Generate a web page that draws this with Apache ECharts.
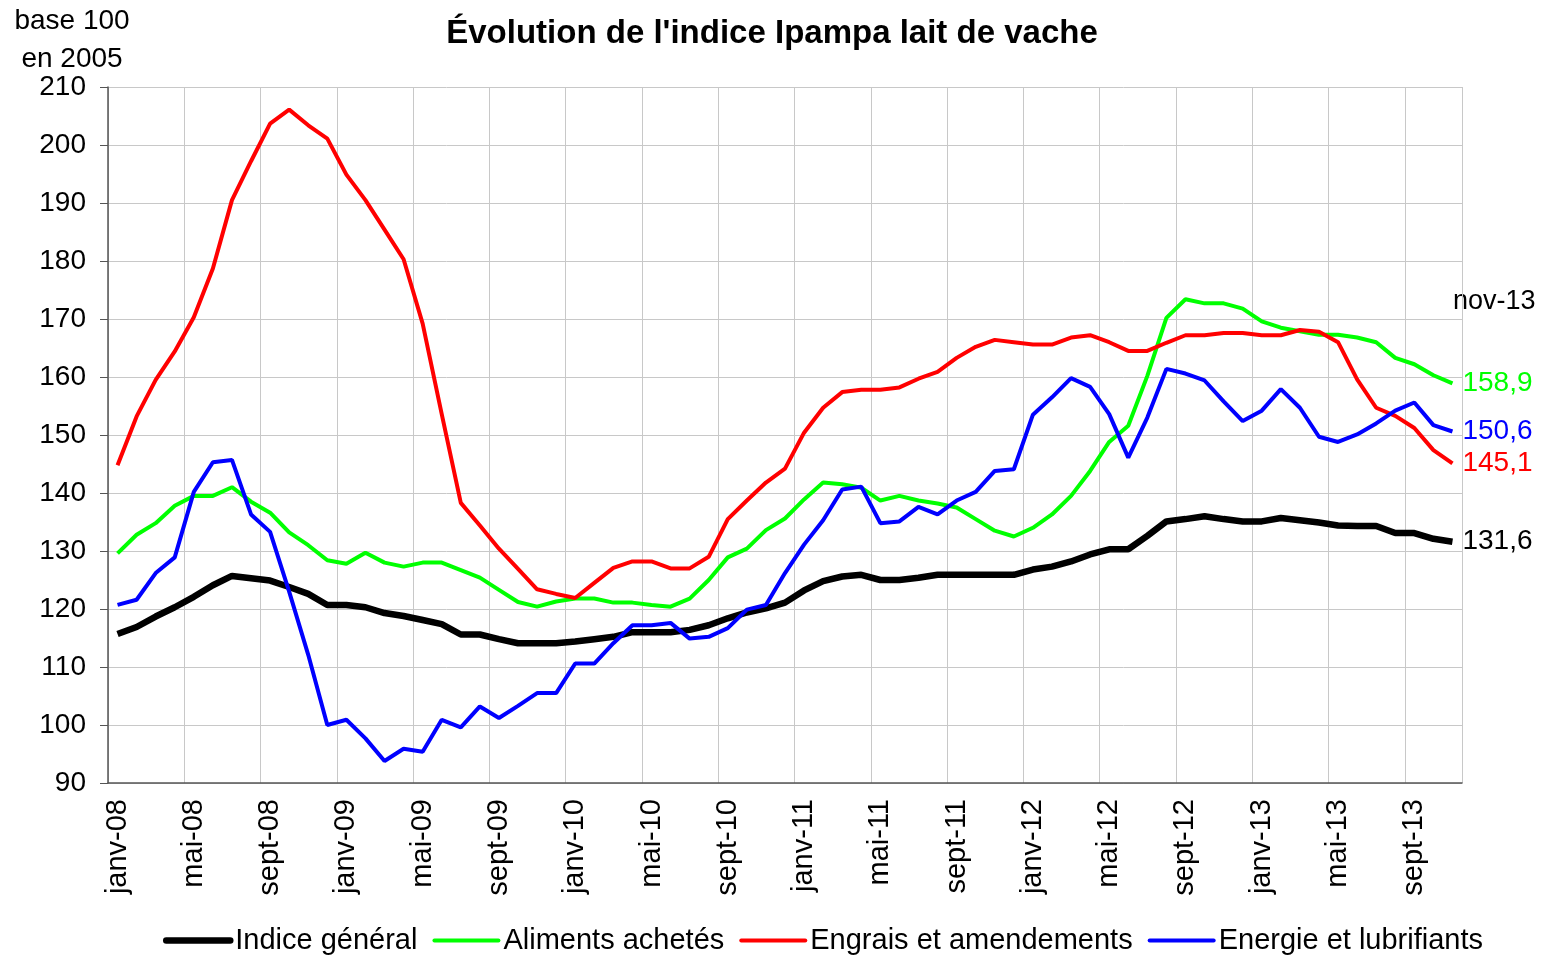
<!DOCTYPE html>
<html>
<head>
<meta charset="utf-8">
<script src="https://cdn.jsdelivr.net/npm/echarts@6/dist/echarts.min.js"></script>
<style>
  html, body { margin: 0; padding: 0; background: #fff; }
  #chart { width: 1544px; height: 956px; }
</style>
</head>
<body>
<div id="chart"></div>
<script>
// mois de janv-08 à nov-13
const monthNames = ['janv', 'févr', 'mars', 'avr', 'mai', 'juin', 'juil', 'août', 'sept', 'oct', 'nov', 'déc']
const years = ['08', '09', '10', '11', '12', '13']
const months = []
years.forEach(y => monthNames.forEach(m => months.push(m + '-' + y)))
months.length = 71

const seriesNames = ['Indice général', 'Aliments achetés', 'Engrais et amendements', 'Energie et lubrifiants']

const indiceGeneral = [
  115.7, 116.9, 118.7, 120.3, 122.1, 124.1, 125.7, 125.3, 124.9, 123.8, 122.6, 120.7,
  120.7, 120.3, 119.3, 118.8, 118.1, 117.4, 115.6, 115.6, 114.8, 114.1, 114.1, 114.1,
  114.4, 114.8, 115.2, 116.0, 116.0, 116.0, 116.4, 117.2, 118.4, 119.4, 120.1, 121.1,
  123.2, 124.8, 125.6, 125.9, 125.0, 125.0, 125.4, 125.9, 125.9, 125.9, 125.9, 125.9,
  126.8, 127.3, 128.2, 129.4, 130.3, 130.3, 132.6, 135.1, 135.5, 136.0, 135.5, 135.1,
  135.1, 135.7, 135.3, 134.9, 134.4, 134.3, 134.3, 133.1, 133.1, 132.1, 131.6
]
const aliments = [
  129.6, 132.8, 134.8, 137.8, 139.5, 139.5, 141.0, 138.5, 136.6, 133.2, 131.0, 128.4,
  127.8, 129.7, 128.0, 127.3, 128.0, 128.0, 126.7, 125.4, 123.3, 121.2, 120.4, 121.3,
  121.8, 121.8, 121.1, 121.1, 120.7, 120.4, 121.8, 125.0, 128.9, 130.4, 133.6, 135.6,
  138.9, 141.8, 141.5, 140.9, 138.7, 139.5, 138.7, 138.2, 137.5, 135.5, 133.5, 132.5,
  134.0, 136.3, 139.5, 143.8, 148.8, 151.6, 160.2, 170.2, 173.4, 172.7, 172.7, 171.8,
  169.6, 168.5, 167.9, 167.3, 167.3, 166.8, 166.0, 163.3, 162.2, 160.3, 158.9
]
const engrais = [
  144.8, 153.2, 159.5, 164.4, 170.3, 178.7, 190.5, 197.2, 203.7, 206.1, 203.4, 201.1,
  194.9, 190.5, 185.4, 180.3, 169.2, 153.6, 138.3, 134.4, 130.4, 126.9, 123.4, 122.6,
  121.9, 124.5, 127.1, 128.2, 128.2, 127.0, 127.0, 129.0, 135.5, 138.7, 141.8, 144.2,
  150.4, 154.7, 157.4, 157.8, 157.8, 158.2, 159.7, 160.9, 163.3, 165.2, 166.4, 166.0,
  165.6, 165.6, 166.8, 167.2, 166.0, 164.5, 164.5, 165.9, 167.2, 167.2, 167.6, 167.6,
  167.2, 167.2, 168.1, 167.8, 166.0, 159.6, 154.7, 153.3, 151.2, 147.4, 145.1
]
const energie = [
  120.7, 121.6, 126.2, 128.9, 140.2, 145.3, 145.7, 136.3, 133.3, 123.0, 112.1, 100.0,
  100.9, 97.7, 93.8, 95.9, 95.4, 100.9, 99.6, 103.2, 101.2, 103.3, 105.5, 105.5,
  110.6, 110.6, 114.1, 117.2, 117.2, 117.6, 114.9, 115.2, 116.7, 119.9, 120.7, 126.2,
  131.1, 135.3, 140.6, 141.1, 134.8, 135.1, 137.6, 136.3, 138.7, 140.2, 143.8, 144.1,
  153.5, 156.5, 159.8, 158.3, 153.6, 146.1, 153.0, 161.4, 160.6, 159.4, 155.8, 152.4,
  154.2, 157.9, 154.7, 149.7, 148.8, 150.1, 152.0, 154.2, 155.6, 151.7, 150.6
]

const seriesData = [indiceGeneral, aliments, engrais, energie]
const colors = ['#000000', '#00ff00', '#ff0000', '#0000ff']
const widths = [6.5, 4, 4, 4]

const font = '"Liberation Sans", Arial, sans-serif'

const chart = echarts.init(document.getElementById('chart'))

const option = {
  animation: false,
  textStyle: { fontFamily: font },
  title: {
    text: "Évolution de l'indice Ipampa lait de vache",
    left: 'center',
    top: 12,
    textStyle: { fontSize: 33, fontWeight: 'bold', color: '#000', fontFamily: font }
  },
  graphic: [
    {
      type: 'text',
      x: 72,
      y: 2,
      style: {
        text: 'base 100\nen 2005',
        fill: '#000',
        font: '28px ' + font,
        align: 'center',
        lineHeight: 38
      }
    },
    {
      type: 'text',
      x: 1453,
      y: 288,
      style: {
        text: months[months.length - 1],
        fill: '#000',
        font: '27px ' + font
      }
    }
  ],
  legend: {
    data: seriesNames.map((name, i) => ({
      name: name,
      itemStyle: { opacity: 0 },
      lineStyle: { color: colors[i], width: widths[i], cap: 'round' }
    })),
    left: 158,
    top: 921,
    itemWidth: 64,
    itemHeight: 14,
    itemGap: 15,
    textStyle: { fontSize: 29, color: '#000', fontFamily: font }
  },
  grid: {
    left: 108,
    right: 82,
    top: 87,
    bottom: 173
  },
  xAxis: {
    type: 'category',
    data: months,
    boundaryGap: true,
    axisLine: { lineStyle: { color: '#555', width: 1.5 } },
    axisTick: { interval: 3, length: 8, lineStyle: { color: '#555' } },
    axisLabel: {
      interval: 3,
      rotate: 90,
      fontSize: 29,
      color: '#000',
      margin: 16,
      fontFamily: font
    },
    splitLine: { show: true, interval: 3, lineStyle: { color: '#c8c8c8', width: 1 } }
  },
  yAxis: {
    type: 'value',
    min: 90,
    max: 210,
    interval: 10,
    axisLine: { show: true, lineStyle: { color: '#555', width: 1.5 } },
    axisTick: { show: true, length: 8, lineStyle: { color: '#555' } },
    axisLabel: { fontSize: 28, color: '#000', margin: 22, fontFamily: font },
    splitLine: { lineStyle: { color: '#c8c8c8', width: 1 } }
  },
  series: seriesNames.map((name, i) => ({
    name: name,
    type: 'line',
    data: seriesData[i],
    symbol: 'none',
    color: colors[i],
    lineStyle: { color: colors[i], width: widths[i] },
    endLabel: {
      show: true,
      distance: 10,
      color: colors[i],
      fontSize: 28,
      fontFamily: font,
      formatter: p => p.value.toFixed(1).replace('.', ',')
    }
  }))
}

chart.setOption(option)
</script>
</body>
</html>
